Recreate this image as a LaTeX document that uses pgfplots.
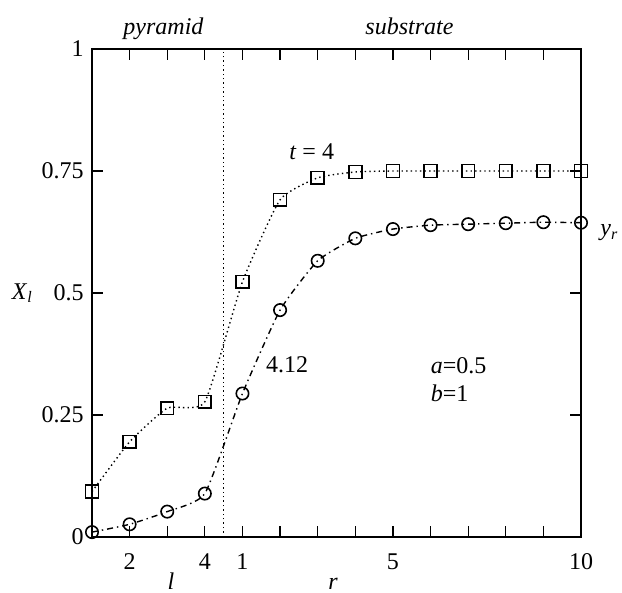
\documentclass[border=0pt,12pt]{standalone}
\usepackage{fontspec}
\setmainfont{Liberation Serif}
\usepackage{pgfplots}
\pgfplotsset{compat=1.18}

% x is an index: 0..3 are l = 1..4 (pyramid), 4..13 are r = 1..10 (substrate)
\pgfplotstableread{
x    X
0    0.093
1    0.195
2    0.264
3    0.277
4    0.523
5    0.691
6    0.736
7    0.748
8    0.750
9    0.750
10   0.750
11   0.750
12   0.750
13   0.750
}\squaredata

\pgfplotstableread{
x    Y
0    0.010
1    0.026
2    0.052
3    0.089
4    0.294
5    0.465
6    0.566
7    0.612
8    0.631
9    0.639
10   0.641
11   0.643
12   0.645
13   0.644
}\circledata

\begin{document}
\begin{tikzpicture}
  \useasboundingbox (-46pt,-28pt) rectangle (265pt,268.5pt);
  \begin{axis}[
      scale only axis,
      width=244.5pt, height=244pt,
      xmin=0, xmax=13, ymin=0, ymax=1,
      xtick={0,...,13},
      xticklabels={,2,,4,1,,,,5,,,,,10},
      ytick={0,0.25,0.5,0.75,1},
      yticklabels={0,0.25,0.5,0.75,1},
      tick align=inside,
      major tick length=5.5pt,
      every tick/.style={black, line width=0.6pt},
      axis line style={line width=0.8pt},
      /pgf/number format/assume math mode=true,
      tick label style={font=\fontsize{12}{14}\selectfont},
      xticklabel style={yshift=-4pt},
      clip=false,
    ]
    \addplot [black, line width=0.6pt, dash pattern=on 0.7pt off 1.5pt] coordinates {(3.5,0) (3.5,1)};

    \addplot [black, line width=0.7pt, smooth, tension=0.3, dash pattern=on 0.7pt off 1.6pt,
      mark=square, mark size=3.2pt,
      mark options={solid, line width=0.8pt}] table [x=x, y=X] {\squaredata};

    \addplot [black, line width=0.7pt, smooth, tension=0.3, dash pattern=on 3pt off 2pt on 0.7pt off 2pt,
      mark=o, mark size=3.1pt,
      mark options={solid, line width=0.8pt}] table [x=x, y=Y] {\circledata};

    \node [anchor=base, inner sep=0pt, yshift=7.4pt] at (axis cs:1.9,1) {\textit{pyramid}};
    \node [anchor=base, inner sep=0pt, yshift=7.4pt] at (axis cs:8.44,1) {\textit{substrate}};
    \node at (axis cs:5.84,0.79) {\textit{t} = 4};
    \node at (axis cs:5.19,0.352) {4.12};
    \node [anchor=west, inner sep=0pt] at (axis cs:9.0,0.352) {\textit{a}=0.5};
    \node [anchor=west, inner sep=0pt] at (axis cs:9.0,0.294) {\textit{b}=1};
    \node [anchor=west, inner sep=0pt, xshift=9.5pt] at (axis cs:13,0.623) {\textit{y}\textsubscript{\textit{r}}};
    \node [anchor=west, inner sep=0pt, xshift=-40.2pt] at (rel axis cs:0,0.5) {\textit{X}\textsubscript{\textit{l}}};
    \node [anchor=base, inner sep=0pt, yshift=-26.5pt] at (axis cs:2.1,0) {\textit{l}};
    \node [anchor=base, inner sep=0pt, yshift=-26.5pt] at (axis cs:6.41,0) {\textit{r}};
  \end{axis}
\end{tikzpicture}
\end{document}
